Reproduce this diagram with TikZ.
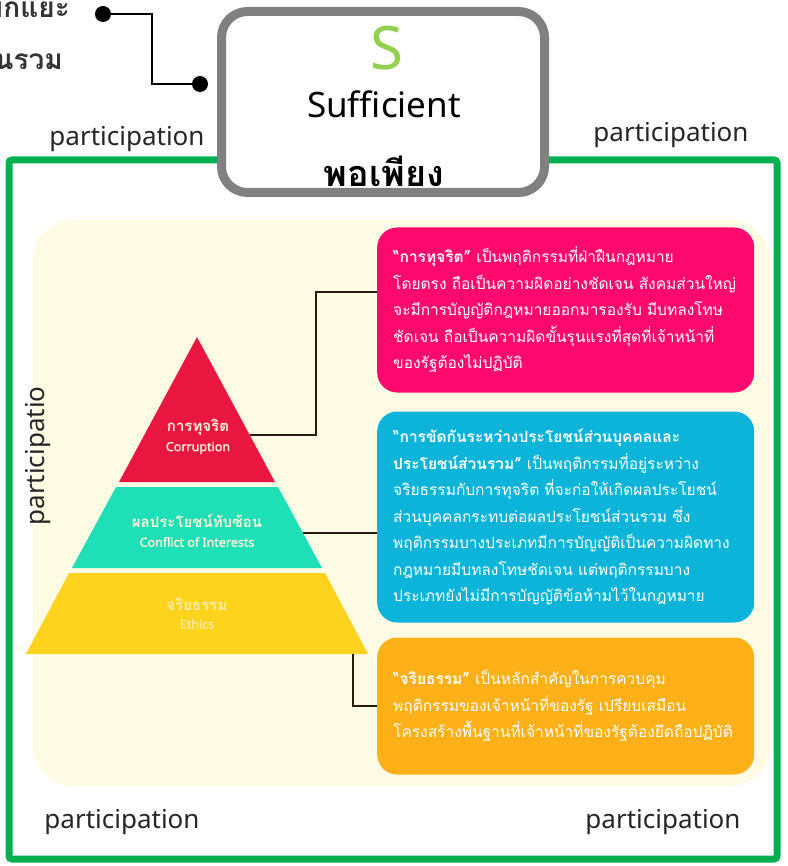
\documentclass[tikz,border=0pt]{standalone}
\usepackage{fontspec}
\setmainfont{Noto Sans}
\newfontfamily\thaifont[Script=Thai]{Loma}
\newfontfamily\tiersans[FakeBold=1.6]{Noto Sans}
\usetikzlibrary{positioning, calc}
\definecolor{framegreen}{HTML}{00B050}
\definecolor{badgegray}{HTML}{808080}
\definecolor{sgreen}{HTML}{92D050}
\definecolor{creambg}{HTML}{FEFBE5}
\definecolor{pinkbox}{HTML}{FE0A6E}
\definecolor{bluebox}{HTML}{0BB4D8}
\definecolor{orangebox}{HTML}{FDB017}
\definecolor{tierred}{HTML}{E9173F}
\definecolor{tierteal}{HTML}{1EDFB6}
\definecolor{tieryellow}{HTML}{FDD31D}
\definecolor{tiertext}{HTML}{FFF2D8}
\definecolor{linkbrown}{HTML}{2B1B0E}
\definecolor{darktext}{HTML}{333333}
\tikzset{
  badge/.style={
    draw=badgegray,
    line width=9pt,
    fill=white,
    rounded corners=26pt,
    minimum width=323pt,
    minimum height=181pt
  },
  callout/.style={
    rounded corners=20pt,
    text=white,
    align=left,
    anchor=west,
    inner xsep=16pt,
    text width=345pt,
    font=\thaifont\fontsize{15.5}{26.5}\selectfont
  },
  tier/.style={
    line width=0pt
  },
  tier label/.style={
    text=tiertext,
    align=center,
    inner sep=0pt
  },
  tier thai/.style={
    tier label,
    font=\thaifont\bfseries\fontsize{15}{17}\selectfont
  },
  tier eng/.style={
    tier label,
    font=\tiersans\fontsize{12.5}{14}\selectfont
  },
  link/.style={
    draw=linkbrown,
    line width=2.5pt
  },
  dot end/.style={
    circle,
    fill=black,
    inner sep=0pt,
    minimum size=16pt
  },
  part label/.style={
    font=\fontsize{26}{30}\selectfont,
    text=black!85,
    inner sep=0pt
  }
}

\begin{document}
\begin{tikzpicture}[x=1pt, y=-1pt]
    \useasboundingbox (0,0) rectangle (787,866);

    % กรอบสีเขียว
    \draw[framegreen, line width=7pt, rounded corners=3pt] (9,160) rectangle (777,859);

    % ข้อความมุมซ้ายบน (ถูกตัดขอบ)
    \node[anchor=base east, inner sep=0pt, text=darktext,
      font=\thaifont\bfseries\fontsize{28}{30}\selectfont] (splitword) at (70,18) {แยกแยะ};
    \node[anchor=base east, inner sep=0pt, text=darktext,
      font=\thaifont\bfseries\fontsize{28}{30}\selectfont] (commonword) at (63,70) {ส่วนรวม};

    % เส้นเชื่อมจุด
    \node[dot end] (dotA) at (103,14) {};
    \node[dot end] (dotB) at (200,84) {};
    \coordinate (bendA) at (152,50);
    \draw[black, line width=1.6pt] (dotA.center) -| (bendA) |- (dotB.center);

    % ป้าย S
    \node[badge] (badge) at (383,102) {};
    \node[text=sgreen, font=\fontsize{60}{60}\selectfont, inner sep=0pt] (letterS) at (387,48) {S};
    \node[font=\fontsize{35}{40}\selectfont, inner sep=0pt] (suffword) at (384,104) {Sufficient};
    \node[font=\thaifont\bfseries\fontsize{36}{38}\selectfont, inner sep=0pt] (thaisuff) at (384,171) {พอเพียง};

    % พื้นหลังครีม
    \fill[creambg, rounded corners=40pt] (33,220) rectangle (770,786);

    % participation
    \node[part label] (partTL) at (127,139) {participation};
    \node[part label] (partTR) at (671,135) {participation};
    \node[part label] (partBL) at (122,822) {participation};
    \node[part label] (partBR) at (663,822) {participation};
    \node[part label, rotate=90] (partL) at (38,456) {participatio};

    % พีระมิด
    \fill[tier, tierred] (197,337) -- (275,482) -- (119,482) -- cycle;
    \fill[tier, tierteal] (116,487) -- (278,487) -- (322,568) -- (72,568) -- cycle;
    \fill[tier, tieryellow] (69,573) -- (325,573) -- (368,654) -- (26,654) -- cycle;

    \node[tier thai] (corruptTH) at (198,427) {การทุจริต};
    \node[tier eng] (corruptEN) at (198,448) {Corruption};
    \node[tier thai] (conflictTH) at (197,521) {ผลประโยชน์ทับซ้อน};
    \node[tier eng] (conflictEN) at (197,542) {Conflict of Interests};
    \node[tier thai, text=tiertext!75!tieryellow] (ethicsTH) at (197,604) {จริยธรรม};
    \node[tier eng, text=tiertext!75!tieryellow] (ethicsEN) at (197,624) {Ethics};

    \coordinate (redtip) at (250,435);
    \coordinate (tealtip) at (303,533);
    \coordinate (yelltip) at (353,654);

    % กล่องคำอธิบาย
    \node[callout, fill=pinkbox, minimum width=373pt, minimum height=165pt] (corruptbox) at (377,310)
      {\textbf{“การทุจริต”} เป็นพฤติกรรมที่ฝ่าฝืนกฎหมาย\\
       โดยตรง ถือเป็นความผิดอย่างชัดเจน สังคมส่วนใหญ่\\
       จะมีการบัญญัติกฎหมายออกมารองรับ มีบทลงโทษ\\
       ชัดเจน ถือเป็นความผิดขั้นรุนแรงที่สุดที่เจ้าหน้าที่\\
       ของรัฐต้องไม่ปฏิบัติ};
    \node[callout, fill=bluebox, minimum width=373pt, minimum height=211pt] (conflictbox) at (377,517)
      {\textbf{“การขัดกันระหว่างประโยชน์ส่วนบุคคลและ}\\
       \textbf{ประโยชน์ส่วนรวม”} เป็นพฤติกรรมที่อยู่ระหว่าง\\
       จริยธรรมกับการทุจริต ที่จะก่อให้เกิดผลประโยชน์\\
       ส่วนบุคคลกระทบต่อผลประโยชน์ส่วนรวม ซึ่ง\\
       พฤติกรรมบางประเภทมีการบัญญัติเป็นความผิดทาง\\
       กฎหมายมีบทลงโทษชัดเจน แต่พฤติกรรมบาง\\
       ประเภทยังไม่มีการบัญญัติข้อห้ามไว้ในกฎหมาย};
    \node[callout, fill=orangebox, minimum width=373pt, minimum height=137pt] (ethicsbox) at (377,706)
      {\textbf{“จริยธรรม”} เป็นหลักสำคัญในการควบคุม\\
       พฤติกรรมของเจ้าหน้าที่ของรัฐ เปรียบเสมือน\\
       โครงสร้างพื้นฐานที่เจ้าหน้าที่ของรัฐต้องยึดถือปฏิบัติ};

    % เส้นเชื่อม
    \draw[link] (redtip) -- (316,435) |- ([yshift=18pt]corruptbox.west);
    \draw[link] (tealtip) -- (conflictbox.west |- tealtip);
    \draw[link] (yelltip) |- (ethicsbox.west);

\end{tikzpicture}
\end{document}
